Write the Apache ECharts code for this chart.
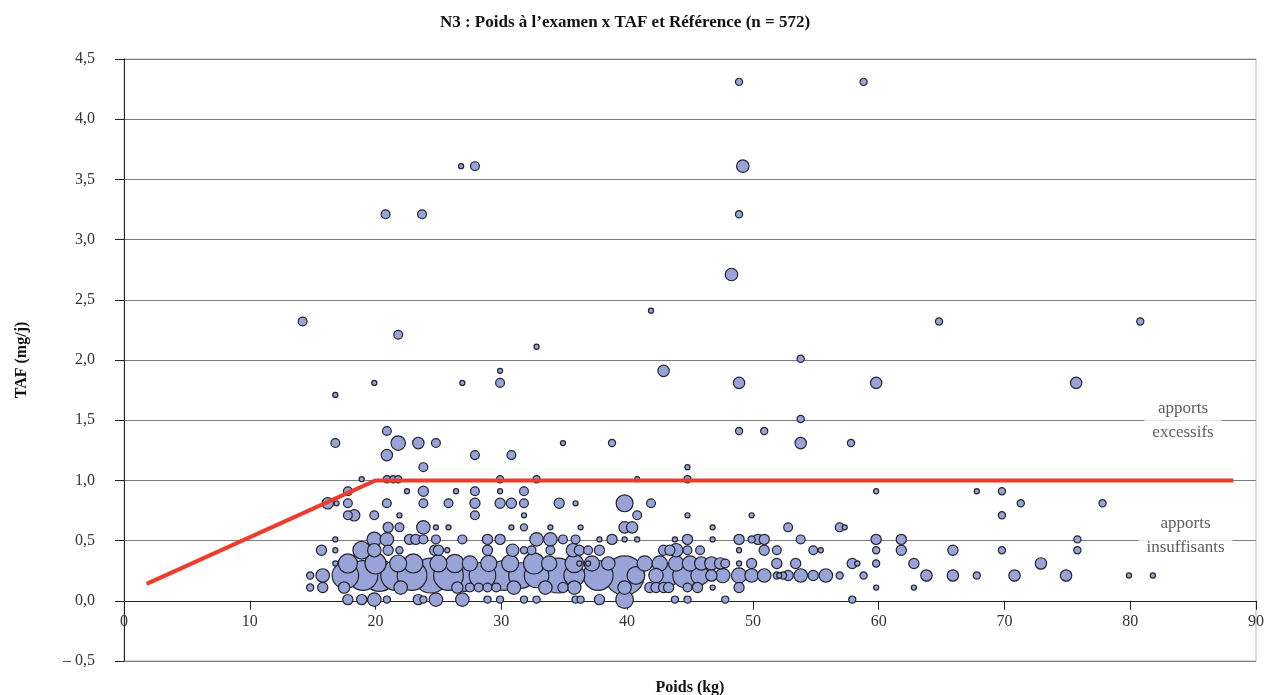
<!DOCTYPE html>
<html>
<head>
<meta charset="utf-8">
<script src="https://cdn.jsdelivr.net/npm/echarts@6/dist/echarts.min.js"></script>
<style>
html,body{margin:0;padding:0;background:#fff;}
#chart{width:1267px;height:695px;}
</style>
</head>
<body>
<div id="chart"></div>
<script>
// TAF levels (mg/j) – one row of bubbles per level
const tafNiveaux = [4.31, 3.61, 3.21, 2.71, 2.41, 2.32, 2.21, 2.11, 2.01, 1.91, 1.81, 1.71, 1.51, 1.41, 1.31, 1.21, 1.11, 1.01,
                    0.91, 0.81, 0.71, 0.61, 0.51, 0.42, 0.31, 0.21, 0.11, 0.01];
// Poids (kg) of each bubble, per level
const poidsParNiveau = [
  [48.9, 58.8],
  [26.8, 27.9, 49.2],
  [20.8, 23.7, 48.9],
  [48.3],
  [41.9],
  [14.2, 64.8, 80.8],
  [21.8],
  [32.8],
  [53.8],
  [29.9, 42.9],
  [19.9, 26.9, 29.9, 48.9, 59.8, 75.7],
  [16.8],
  [53.8],
  [20.9, 48.9, 50.9],
  [16.8, 21.8, 23.4, 24.8, 34.9, 38.8, 53.8, 57.8],
  [20.9, 27.9, 30.8],
  [23.8, 44.8],
  [18.9, 20.9, 21.4, 21.8, 29.9, 32.8, 40.8, 44.8],
  [17.8, 22.5, 23.8, 26.4, 27.9, 29.9, 31.8, 59.8, 67.8, 69.8],
  [16.2, 16.9, 17.8, 20.9, 23.8, 25.8, 27.9, 29.9, 30.8, 31.8, 34.6, 35.9, 39.8, 41.9, 71.3, 77.8],
  [17.8, 18.3, 19.9, 21.9, 27.9, 31.8, 40.8, 44.8, 49.9, 69.8],
  [21.0, 21.9, 23.8, 24.8, 25.8, 30.8, 31.8, 33.9, 36.3, 39.8, 40.4, 46.8, 52.8, 56.9, 57.3],
  [16.8, 19.9, 20.9, 22.7, 23.2, 23.8, 24.8, 26.9, 28.9, 29.9, 32.8, 33.9, 34.9, 35.9, 37.8, 38.8, 39.8, 40.8, 43.8, 44.8,
   46.8, 48.9, 49.9, 50.4, 50.9, 53.8, 59.8, 61.8, 75.8],
  [15.7, 16.8, 18.9, 19.9, 21.0, 21.9, 24.7, 25.0, 25.7, 28.9, 30.9, 31.8, 32.4, 33.9, 35.7, 36.2, 36.9, 37.8, 42.9, 43.4,
   43.9, 44.8, 45.8, 48.9, 50.9, 51.9, 54.8, 55.4, 59.8, 61.8, 65.9, 69.8, 75.8],
  [16.8, 17.8, 20.0, 21.8, 23.0, 25.0, 26.3, 27.5, 29.0, 30.7, 32.6, 33.8, 35.8, 36.2, 36.9, 37.2, 38.5, 41.4, 42.6, 43.9,
   45.0, 45.9, 46.7, 47.4, 47.8, 48.9, 49.9, 51.9, 53.4, 57.9, 58.3, 59.8, 62.8, 72.9],
  [14.8, 15.8, 17.6, 19.0, 20.3, 21.6, 22.9, 24.4, 25.8, 27.1, 28.5, 30.2, 31.6, 32.8, 34.5, 35.8, 37.7, 39.8, 40.7, 42.3,
   43.1, 44.6, 45.8, 46.7, 47.6, 48.9, 49.9, 50.9, 51.9, 52.1, 52.4, 52.8, 53.8, 54.8, 55.8, 56.9, 58.8, 63.8, 65.9, 67.8,
   70.8, 74.9, 79.9, 81.8],
  [14.8, 15.8, 17.5, 22.0, 26.5, 27.5, 28.2, 28.9, 29.6, 31.0, 33.5, 34.9, 35.8, 39.8, 41.8, 42.3, 42.9, 43.3, 44.8, 45.6,
   46.8, 48.9, 59.8, 62.8],
  [17.8, 18.9, 19.9, 20.9, 23.4, 23.8, 24.8, 26.9, 28.9, 29.9, 31.8, 32.8, 35.9, 36.3, 37.8, 39.8, 43.8, 44.8, 47.8, 57.9]
];
// Number of children represented by each bubble, per level
const effectifParNiveau = [
  [2, 2],
  [1, 3, 6],
  [3, 3, 2],
  [6],
  [1],
  [3, 2, 2],
  [3],
  [1],
  [2],
  [1, 5],
  [1, 1, 3, 5, 5, 5],
  [1],
  [2],
  [3, 2, 2],
  [3, 8, 5, 3, 1, 2, 5, 2],
  [5, 3, 3],
  [3, 1],
  [1, 2, 2, 2, 2, 2, 1, 2],
  [3, 1, 4, 1, 3, 1, 3, 1, 1, 2],
  [5, 1, 3, 3, 3, 3, 4, 4, 4, 3, 4, 1, 11, 3, 2, 2],
  [3, 5, 3, 1, 3, 1, 3, 1, 1, 2],
  [4, 3, 7, 1, 1, 1, 2, 1, 1, 5, 5, 1, 3, 3, 1],
  [1, 8, 7, 4, 4, 3, 3, 3, 4, 4, 7, 7, 3, 3, 1, 4, 1, 1, 1, 4,
   1, 4, 2, 4, 4, 3, 4, 4, 2],
  [4, 1, 12, 7, 4, 2, 4, 4, 1, 4, 6, 2, 3, 3, 7, 4, 3, 4, 4, 4,
   7, 3, 3, 1, 4, 3, 3, 1, 2, 4, 4, 2, 2],
  [1, 14, 17, 11, 14, 11, 13, 9, 10, 11, 17, 9, 13, 1, 1, 9, 7, 9, 9, 9,
   9, 7, 7, 5, 3, 1, 4, 4, 4, 4, 1, 2, 4, 5],
  [2, 7, 27, 34, 39, 34, 34, 47, 34, 39, 27, 34, 25, 23, 47, 17, 34, 59, 12, 8,
   23, 23, 13, 5, 8, 9, 7, 7, 2, 1, 2, 4, 7, 4, 7, 2, 2, 5, 5, 2,
   5, 5, 1, 1],
  [2, 4, 5, 7, 5, 3, 3, 3, 3, 7, 7, 4, 7, 7, 4, 4, 4, 4, 3, 4,
   1, 4, 1, 1],
  [4, 4, 7, 2, 4, 2, 7, 7, 2, 2, 2, 2, 2, 2, 4, 12, 2, 2, 2, 2]
];
// Reference line (Référence)
const refPoids = [1.8, 20, 88.2];
const refTaf = [0.14, 1.0, 1.0];
// Zone labels
const zoneTextes = ['apports\nexcessifs', 'apports\ninsuffisants'];
const zonePoids = [84.2, 84.4];
const zoneTaf = [1.5, 0.545];

const points = [];
tafNiveaux.forEach((y, i) => {
  poidsParNiveau[i].forEach((x, j) => points.push([x, y, effectifParNiveau[i][j]]));
});
points.sort((a, b) => b[2] - a[2]);

const serif = '"Liberation Serif", "DejaVu Serif", serif';
const chart = echarts.init(document.getElementById('chart'));
chart.setOption({
  animation: false,
  backgroundColor: '#fff',
  title: {
    text: 'N3 : Poids à l’examen x TAF et Référence (n = 572)',
    left: 620, top: 9, textAlign: 'center',
    textStyle: { fontFamily: serif, fontWeight: 'bold', fontSize: 17, color: '#111' }
  },
  grid: { left: 124, right: 11, top: 59, bottom: 34, containLabel: false, outerBoundsMode: 'none',
          show: true, borderColor: '#b5b5b5', borderWidth: 1, backgroundColor: 'transparent' },
  xAxis: {
    type: 'value', min: 0, max: 90, interval: 10,
    name: 'Poids (kg)', nameLocation: 'middle', nameGap: 19, nameMoveOverlap: false,
    nameTextStyle: { fontFamily: serif, fontWeight: 'bold', fontSize: 16, color: '#111' },
    axisLine: { onZero: true, lineStyle: { color: '#222', width: 1 } },
    axisTick: { show: true, inside: false, length: 9, lineStyle: { color: '#222' } },
    axisLabel: { fontFamily: serif, fontSize: 16, color: '#333', margin: -47 },
    splitLine: { show: false }
  },
  yAxis: {
    type: 'value', min: -0.5, max: 4.5, interval: 0.5,
    name: 'TAF (mg/j)', nameLocation: 'middle', nameGap: 94, nameRotate: 90,
    nameTextStyle: { fontFamily: serif, fontWeight: 'bold', fontSize: 16, color: '#111' },
    axisLine: { show: true, onZero: false, lineStyle: { color: '#222', width: 1 } },
    axisTick: { show: true, inside: false, length: 9, lineStyle: { color: '#222' } },
    axisLabel: {
      fontFamily: serif, fontSize: 16, color: '#333', margin: 29,
      formatter: v => (v < 0 ? '– ' + Math.abs(v).toFixed(1) : v.toFixed(1)).replace('.', ',')
    },
    splitLine: { show: true, lineStyle: { color: '#7d7d7d', width: 1 } }
  },
  series: [
    {
      type: 'scatter',
      data: points,
      symbolSize: v => 5.1 * Math.sqrt(v[2]),
      itemStyle: { color: '#98a3d8', borderColor: '#24242e', borderWidth: 1.2, opacity: 1 },
      z: 2
    },
    {
      type: 'line',
      data: refPoids.map((x, i) => [x, refTaf[i]]),
      symbol: 'none',
      lineStyle: { color: '#ef3b2c', width: 4 },
      z: 3
    },
    {
      type: 'scatter',
      data: zonePoids.map((x, i) => ({ value: [x, zoneTaf[i]], name: zoneTextes[i] })),
      symbol: 'rect', symbolSize: 1,
      itemStyle: { color: 'rgba(0,0,0,0)' },
      label: {
        show: true, position: 'inside', formatter: p => p.name,
        fontFamily: serif, fontSize: 17, color: '#333', lineHeight: 24,
        backgroundColor: '#fff', padding: [2, 8], align: 'center'
      },
      z: 4, silent: true
    }
  ]
});
</script>
</body>
</html>
